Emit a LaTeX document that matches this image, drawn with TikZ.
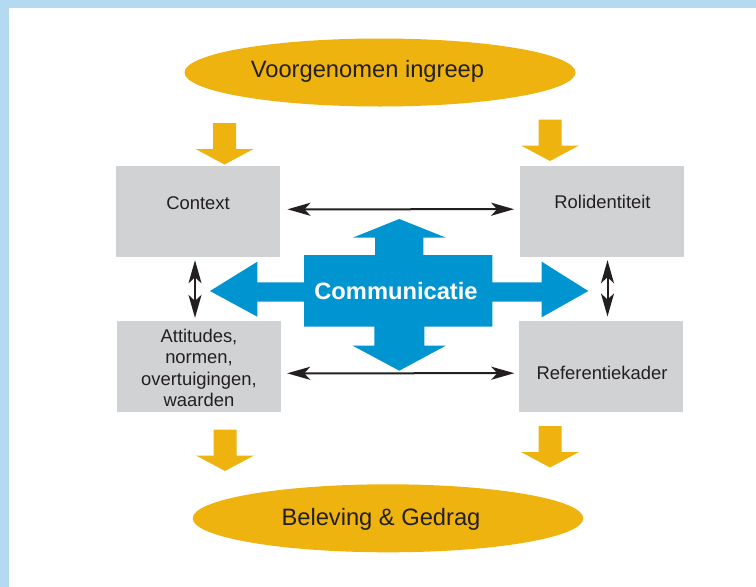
\documentclass[tikz,border=0pt]{standalone}
\usepackage{fontspec}
\setmainfont{Liberation Sans}
\usetikzlibrary{arrows.meta,shapes.geometric,calc}
\definecolor{yel}{HTML}{EFB310}
\definecolor{blu}{HTML}{0095D0}
\definecolor{gry}{HTML}{D1D2D4}
\definecolor{txt}{HTML}{231F20}
\definecolor{sky}{HTML}{B3DAF0}
\begin{document}
\begin{tikzpicture}[x=1pt,y=-1pt,
  oval/.style={ellipse, fill=yel, inner sep=0pt, minimum width=391pt, minimum height=68pt},
  box/.style={rectangle, fill=gry, inner sep=0pt, minimum width=164pt, minimum height=91pt},
  lbl/.style={text=txt, inner sep=0pt, font=\fontsize{18.4}{21.5}\selectfont},
  big/.style={text=txt, inner sep=0pt, font=\fontsize{23.7}{28}\selectfont},
  tipb/.tip={Stealth[length=23pt,width=13pt,inset=6pt]},
  dbl/.style={tipb-tipb, line width=2pt, draw=txt},
  yarrow/.pic={\fill[yel] (-11.5,0) -- (11.5,0) -- (11.5,26) -- (29,26) -- (0,41.5) -- (-29,26) -- (-11.5,26) -- cycle;}
]
% background frame
\fill[sky] (0,0) rectangle (756,587);
\fill[white] (9,8) rectangle (756,587);
\useasboundingbox (0,0) rectangle (756,587);

% ellipses
\node[oval] (top) at (380,72.5) {};
\node[big, anchor=base] (toptxt) at (367.5,77.3) {Voorgenomen ingreep};
\node[oval, minimum width=390.6pt] (bot) at (388,518.3) {};
\node[big, anchor=base] (bottxt) at (381,525) {Beleving \& Gedrag};

% yellow block arrows
\pic at (224.5,123) {yarrow};
\pic at (550,119.5) {yarrow};
\pic at (225,429.5) {yarrow};
\pic at (550,426) {yarrow};

% grey boxes
\node[box] (ctx) at (198,211.3) {};
\node[box] (rol) at (602,211.2) {};
\node[box] (att) at (198.7,366.3) {};
\node[box] (ref) at (601.2,366.2) {};
\node[lbl, anchor=base] at (198,209) {Context};
\node[lbl, anchor=base] at (602.5,208.3) {Rolidentiteit};
\node[lbl, anchor=base] at (602,379.3) {Referentiekader};
\node[lbl, align=center, anchor=north] at (199,328.7) {Attitudes,\\normen,\\overtuigingen,\\waarden};

% blue communication cross
\fill[blu] (399.3,219) -- (446,237.7) -- (423.3,237.7) -- (423.3,255) -- (492.3,255)
  -- (492.3,282.3) -- (541.7,282.3) -- (541.7,261.7) -- (588.3,291) -- (541.7,317.3)
  -- (541.7,301.7) -- (492.3,301.7) -- (492.3,326.7) -- (424.3,326.7) -- (424.3,345.7)
  -- (445.7,345.7) -- (399.3,370.7) -- (352.7,345.7) -- (374.3,345.7) -- (374.3,326.7)
  -- (304,326.7) -- (304,301.7) -- (257.3,301.7) -- (257.3,316.7) -- (210,291)
  -- (257.3,261.7) -- (257.3,282.3) -- (304,282.3) -- (304,255) -- (375,255)
  -- (375,237.7) -- (352.7,237.7) -- cycle;
\node[anchor=base, inner sep=0pt, text=white, font=\fontsize{23.7}{28}\selectfont\bfseries] (comm) at (396,299) {Communicatie};

% black double arrows
\draw[dbl, shorten <=7.3pt, shorten >=5.7pt] ([yshift=2pt]ctx.east) -- ([yshift=2pt]rol.west);
\draw[dbl, shorten <=6.3pt, shorten >=4.7pt] ([yshift=-7pt]att.east) -- ([yshift=-7pt]ref.west);
\draw[dbl, shorten <=3.3pt, shorten >=2.7pt] ([xshift=-3pt]ctx.south) -- ([xshift=-3pt]ctx.south |- att.north);
\draw[dbl, shorten <=3.3pt, shorten >=4pt] ([xshift=5.5pt]rol.south) -- ([xshift=5.5pt]rol.south |- ref.north);
\end{tikzpicture}
\end{document}
